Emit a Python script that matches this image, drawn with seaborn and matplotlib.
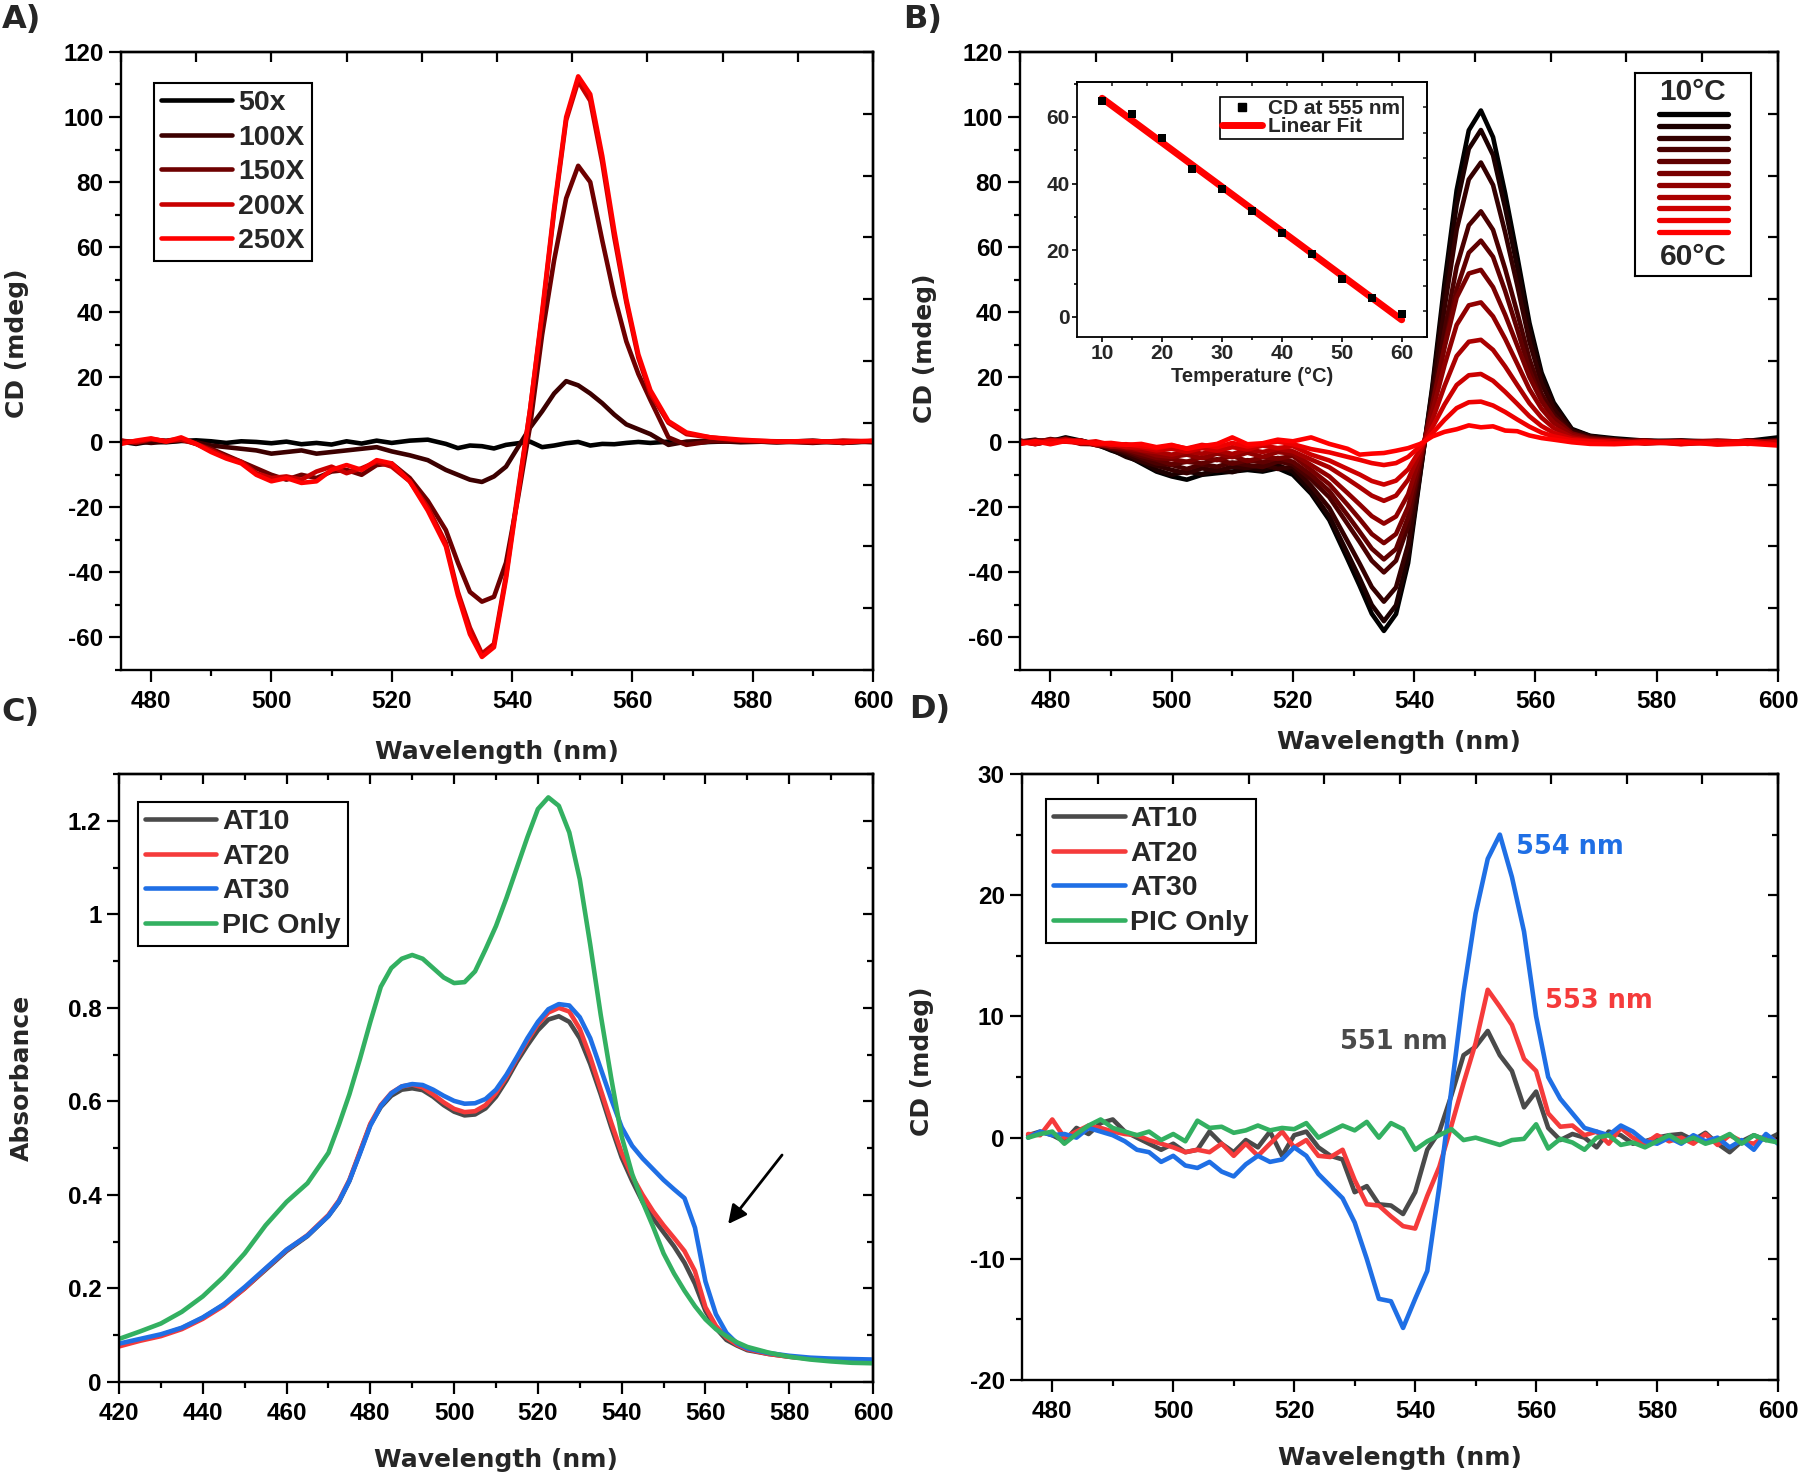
import numpy as np
import pandas as pd
import seaborn as sns
import matplotlib
matplotlib.use("Agg")
import matplotlib.pyplot as plt
from matplotlib.lines import Line2D
from matplotlib.ticker import MultipleLocator, FuncFormatter

sns.set_theme(style="ticks")
plt.rcParams['font.family'] = ['Liberation Sans', 'DejaVu Sans']
plt.rcParams['font.weight'] = 'bold'
plt.rcParams['axes.unicode_minus'] = False

# ---------------- data ----------------
# panels A and B share the same wavelength grid (nm)
wl_cd = [475, 477.5, 480, 482.5, 485, 487.5, 490, 492.5, 495, 497.5, 500, 502.5, 505, 507.5,
         510, 512.5, 515, 517.5, 520, 523, 526, 529, 531, 533, 535, 537, 539, 541, 543, 545,
         547, 549, 551, 553, 555, 557, 559, 561, 563, 566, 569, 573, 578, 584, 590, 595, 600]

# A) dilution series
a_labels = ['50x', '100X', '150X', '200X', '250X']
a50 = [0.2, -0.5, 0.3, 0.0, 0.4, 0.6, 0.3, -0.2, 0.3, 0.1, -0.3, 0.2, -0.6, -0.2, -0.7, 0.3, -0.4, 0.5, -0.2,
       0.5, 0.8, -0.5, -1.8, -1.0, -1.2, -1.9, -0.8, -0.3, 0.2, -1.5, -1.0, -0.3, 0.1, -1.0, -0.5, -0.6, -0.2, 0.1, -0.2,
       0.2, -0.3, 0.1, 0.4, 0.0, 0.5, -0.2, 0.3]
a100 = [0.0, 0.3, -0.2, 0.2, 0.5, 0.0, -1.0, -1.5, -2.0, -2.5, -3.5, -3.0, -2.5, -3.5, -3.0, -2.5, -2.0, -1.5, -2.8,
        -4.0, -5.5, -8.5, -10.0, -11.5, -12.2, -10.5, -7.5, -1.5, 4.5, 9.5, 15.0, 18.8, 17.5, 15.0, 12.0, 8.5, 5.5, 4.0, 2.5,
        -0.8, 0.2, 0.5, 0.0, 0.3, -0.2, 0.4, 0.0]
a150 = [0.5, -0.3, 0.8, 0.5, 1.0, -0.5, -2.0, -4.0, -6.0, -8.0, -10.0, -11.5, -10.0, -11.0, -9.0, -8.5, -10.0, -7.0, -6.5,
        -11.0, -18.0, -27.0, -37.0, -46.0, -49.0, -47.5, -37.0, -17.0, 5.0, 33.0, 56.0, 75.0, 85.0, 80.0, 62.0, 45.0, 31.0, 21.0, 13.0,
        1.5, -0.8, 0.3, 0.5, 0.0, 0.3, -0.2, 0.4]
a200 = [0.5, 0.0, 1.0, 0.3, 0.8, -0.5, -2.5, -4.5, -6.0, -9.5, -11.0, -10.5, -11.5, -9.0, -7.5, -9.5, -8.0, -6.0, -7.5,
        -12.0, -20.0, -31.0, -46.0, -57.0, -65.0, -62.0, -41.0, -15.0, 10.0, 39.0, 71.0, 99.0, 111.0, 105.0, 86.0, 63.0, 43.0, 26.0, 15.0,
        6.0, 2.5, 1.5, 0.5, 0.3, 0.0, 0.5, 0.3]
a250 = [-0.5, 0.5, 1.2, 0.2, 1.5, -0.5, -3.0, -5.0, -6.5, -10.0, -12.0, -11.0, -12.5, -12.0, -8.5, -7.0, -8.5, -5.5, -6.5,
        -12.0, -21.0, -32.0, -47.0, -59.0, -66.0, -63.0, -42.0, -16.0, 10.0, 40.0, 72.0, 100.0, 112.5, 107.0, 88.0, 65.0, 44.0, 27.0, 16.0,
        6.5, 3.0, 1.5, 0.8, 0.2, 0.4, 0.0, 0.5]

# B) temperature series 10..60 C
b_temps = [10, 15, 20, 25, 30, 35, 40, 45, 50, 55, 60]
b10 = [0.5, -0.5, 0.3, 1.5, 0.5, -0.5, -2.5, -4.0, -6.5, -9.0, -10.5, -11.5, -10.0, -9.5, -9.0, -8.5, -9.0, -8.0, -10.0,
       -15.8, -23.9, -35.9, -44.1, -52.7, -58.0, -52.8, -37.1, -9.9,
       17.3, 49.0, 77.5, 95.9, 102.0, 93.8, 76.5, 57.1, 36.7, 21.4, 12.2, 4.1, 2.0,
       1.2, 0.5, 0.3, -0.2, 0.4, 1.5]
b15 = [0.2, 0.8, -0.4, 1.0, 0.2, -0.8, -2.2, -4.5, -6.0, -8.5, -10.0, -9.0, -9.8, -8.5, -9.2, -7.8, -8.6, -7.0, -9.0,
       -15.0, -22.7, -34.1, -41.8, -50.0, -55.0, -50.1, -35.2, -9.4,
       16.3, 46.1, 73.0, 90.2, 96.0, 88.3, 72.0, 53.8, 34.6, 20.2, 11.5, 3.8, 1.9,
       0.8, 0.2, 0.6, 0.1, -0.3, 0.8]
b20 = [-0.3, 0.5, 0.6, 0.8, -0.2, -0.5, -2.0, -3.5, -5.8, -7.2, -8.5, -9.5, -8.0, -8.8, -7.5, -7.9, -6.8, -8.2, -7.5,
       -13.4, -20.2, -30.4, -37.3, -44.5, -49.0, -44.6, -31.4, -8.3,
       14.6, 41.3, 65.4, 80.8, 86.0, 79.1, 64.5, 48.2, 31.0, 18.1, 10.3, 3.4, 1.7,
       0.5, 0.6, -0.2, 0.4, 0.2, 0.3]
b25 = [0.4, -0.2, 1.0, 0.3, 0.6, -0.8, -1.5, -3.0, -4.8, -6.5, -7.0, -8.2, -6.8, -7.5, -6.2, -7.0, -7.6, -5.9, -6.8,
       -11.4, -16.9, -25.1, -30.6, -36.4, -40.0, -36.4, -25.6, -6.8,
       12.1, 34.1, 54.0, 66.7, 71.0, 65.3, 53.3, 39.8, 25.6, 14.9, 8.5, 2.8, 1.4,
       0.9, -0.1, 0.3, -0.4, 0.6, 0.0]
b30 = [0.0, 0.6, -0.3, 1.2, 0.0, -0.3, -1.8, -2.5, -4.2, -5.3, -6.8, -6.0, -6.5, -5.2, -6.6, -5.5, -6.2, -4.8, -6.0,
       -10.0, -15.0, -22.4, -27.5, -32.7, -36.0, -32.8, -23.0, -6.1,
       10.5, 29.8, 47.1, 58.3, 62.0, 57.0, 46.5, 34.7, 22.3, 13.0, 7.4, 2.5, 1.2,
       0.3, 0.4, -0.5, 0.2, -0.2, 0.6]
b35 = [0.5, -0.4, 0.2, 0.7, -0.5, -0.6, -1.2, -2.2, -3.5, -4.8, -5.2, -6.0, -4.6, -5.5, -4.2, -5.8, -4.6, -5.0, -4.2,
       -8.5, -12.9, -19.2, -23.6, -28.2, -31.0, -28.2, -19.8, -5.3,
       11.7, 29.2, 44.5, 51.9, 53.0, 47.7, 39.2, 29.7, 20.1, 12.7, 7.4, 2.7, 1.1,
       0.6, -0.3, 0.2, 0.5, 0.1, -0.5]
b40 = [-0.2, 0.3, 0.8, 0.2, 0.4, -0.9, -1.0, -1.9, -2.6, -4.0, -4.5, -3.8, -4.9, -3.5, -4.6, -3.2, -4.5, -3.0, -3.5,
       -7.0, -10.5, -15.6, -19.1, -22.7, -25.0, -22.8, -16.0, -4.3,
       9.5, 23.7, 36.1, 42.1, 43.0, 38.7, 31.8, 24.1, 16.3, 10.3, 6.0, 2.2, 0.9,
       0.2, 0.5, -0.3, -0.1, 0.4, 0.2]
b45 = [0.3, -0.6, 0.4, 0.9, -0.3, -0.2, -1.3, -1.2, -2.4, -3.0, -3.8, -2.8, -3.5, -2.5, -3.6, -2.2, -3.0, -2.0, -2.8,
       -5.3, -7.7, -11.3, -13.8, -16.4, -18.0, -16.4, -11.5, -3.1,
       6.9, 17.3, 26.5, 30.9, 31.5, 28.4, 23.3, 17.6, 12.0, 7.6, 4.4, 1.6, 0.6,
       -0.2, 0.1, 0.4, -0.6, 0.0, -0.3]
b50 = [-0.4, 0.2, -0.1, 0.6, 0.5, -0.7, -0.5, -1.5, -1.6, -2.5, -2.0, -2.9, -1.8, -2.6, -1.5, -2.2, -1.0, -1.8, -1.2,
       -3.8, -5.6, -8.2, -9.9, -11.9, -13.0, -11.8, -8.3, -2.2,
       4.6, 11.6, 17.6, 20.6, 21.0, 18.9, 15.5, 11.8, 8.0, 5.0, 2.9, 1.1, 0.4,
       0.4, -0.4, 0.0, 0.3, -0.5, 0.1]
b55 = [0.1, -0.5, 0.5, 0.2, -0.2, 0.3, -0.8, -0.6, -1.2, -1.8, -1.0, -1.9, -0.8, -1.5, -0.2, -1.3, -0.5, 0.2, -0.6,
       -2.1, -3.1, -4.5, -5.4, -6.4, -7.0, -6.4, -4.5, -1.2,
       2.8, 6.9, 10.5, 12.3, 12.5, 11.3, 9.3, 7.0, 4.8, 3.0, 1.8, 0.6, 0.3,
       -0.3, 0.2, -0.6, 0.1, 0.3, -0.8]
b60 = [-0.5, 0.3, -0.6, 0.4, 0.2, -0.4, -0.2, -0.8, -0.5, -1.5, -0.8, -2.0, -1.2, -0.5, 1.5, -0.6, -0.3, 0.8, 0.3,
       1.5, -0.5, -2.0, -3.8, -3.5, -3.3, -2.6, -1.8, -0.5,
       1.8, 3.2, 4.0, 5.2, 4.6, 4.9, 3.6, 3.4, 2.1, 1.3, 0.8, 0.0, -0.5,
       -0.6, -0.2, 0.1, -0.7, -0.4, -1.0]
b_curves = [b10, b15, b20, b25, b30, b35, b40, b45, b50, b55, b60]

# B inset: CD at 555 nm vs temperature
inset_temp = [10, 15, 20, 25, 30, 35, 40, 45, 50, 55, 60]
inset_cd = [64.8, 60.8, 53.8, 44.4, 38.3, 31.8, 25.3, 18.8, 11.4, 5.7, 1.0]

# C) absorbance
abs_wl = [420, 425, 430, 435, 440, 445, 450, 455, 460, 465,
          470, 472.5, 475, 477.5, 480, 482.5, 485, 487.5, 490, 492.5,
          495, 497.5, 500, 502.5, 505, 507.5, 510, 512.5, 515, 517.5,
          520, 522.5, 525, 527.5, 530, 532.5, 535, 537.5, 540, 542.5,
          545, 547.5, 550, 552.5, 555, 557.5, 560, 562.5, 565, 567.5,
          570, 575, 580, 585, 590, 595, 600]
sample_labels = ['AT10', 'AT20', 'AT30', 'PIC Only']
abs_at10 = [0.080, 0.090, 0.100, 0.115, 0.137, 0.165, 0.200, 0.240, 0.280, 0.312,
            0.355, 0.385, 0.430, 0.490, 0.550, 0.588, 0.612, 0.625, 0.628, 0.624,
            0.610, 0.592, 0.578, 0.570, 0.572, 0.585, 0.610, 0.645, 0.685, 0.720,
            0.752, 0.775, 0.782, 0.770, 0.735, 0.680, 0.615, 0.545, 0.480, 0.430,
            0.385, 0.350, 0.320, 0.290, 0.255, 0.210, 0.152, 0.115, 0.090, 0.078,
            0.068, 0.060, 0.054, 0.050, 0.047, 0.046, 0.045]
abs_at20 = [0.076, 0.088, 0.098, 0.113, 0.135, 0.163, 0.200, 0.242, 0.282, 0.314,
            0.357, 0.388, 0.432, 0.492, 0.552, 0.592, 0.618, 0.632, 0.636, 0.630,
            0.615, 0.598, 0.584, 0.577, 0.579, 0.592, 0.618, 0.652, 0.692, 0.730,
            0.765, 0.790, 0.800, 0.792, 0.755, 0.695, 0.625, 0.555, 0.490, 0.440,
            0.400, 0.365, 0.335, 0.308, 0.280, 0.237, 0.160, 0.120, 0.095, 0.080,
            0.070, 0.060, 0.054, 0.050, 0.047, 0.045, 0.044]
abs_at30 = [0.082, 0.092, 0.102, 0.116, 0.138, 0.166, 0.203, 0.243, 0.283, 0.313,
            0.355, 0.386, 0.430, 0.488, 0.548, 0.590, 0.617, 0.632, 0.637, 0.635,
            0.625, 0.612, 0.601, 0.595, 0.596, 0.605, 0.625, 0.657, 0.695, 0.735,
            0.770, 0.797, 0.808, 0.805, 0.780, 0.735, 0.670, 0.605, 0.545, 0.505,
            0.478, 0.455, 0.432, 0.412, 0.393, 0.330, 0.215, 0.145, 0.105, 0.083,
            0.072, 0.062, 0.056, 0.052, 0.050, 0.049, 0.048]
abs_pic = [0.092, 0.108, 0.125, 0.150, 0.183, 0.225, 0.275, 0.335, 0.385, 0.425,
           0.490, 0.550, 0.615, 0.690, 0.770, 0.845, 0.885, 0.905, 0.913, 0.905,
           0.885, 0.865, 0.853, 0.855, 0.878, 0.925, 0.975, 1.035, 1.100, 1.165,
           1.225, 1.250, 1.232, 1.175, 1.075, 0.935, 0.785, 0.650, 0.525, 0.445,
           0.385, 0.332, 0.275, 0.232, 0.195, 0.162, 0.134, 0.113, 0.098, 0.085,
           0.075, 0.063, 0.054, 0.048, 0.044, 0.041, 0.040]

# D) CD of the samples, 476..600 nm every 2 nm
d_wl = list(range(476, 601, 2))
d_at10 = [0.2, 0.5, 0.2, -0.3, 0.8, 0.3, 1.2, 1.5, 0.5, 0.0,
          -0.5, -1.0, -0.5, -1.2, -1.0, 0.5, -0.5, -1.2, -0.2, -0.8,
          0.5, -1.5, 0.2, 0.5, -0.8, -1.5, -1.8, -4.5, -4.0, -5.5,
          -5.6, -6.3, -4.5, -1.0, 0.5, 3.5, 6.8, 7.5, 8.8, 6.8,
          5.5, 2.5, 3.8, 0.8, -0.2, 0.3, 0.0, -0.8, 0.5, 0.2,
          -0.5, -0.3, 0.0, 0.2, 0.3, -0.2, 0.4, -0.5, -1.2, -0.3,
          0.2, -0.2, 0.3]
d_at20 = [0.3, 0.2, 1.5, 0.0, 0.5, 1.0, 0.8, 0.5, 0.3, 0.2,
          -0.2, -0.5, -0.8, -1.2, -1.0, -1.2, -0.5, -1.5, -0.5, -1.5,
          -0.5, 0.5, -0.8, -0.2, -1.5, -1.6, -1.0, -3.5, -5.5, -5.6,
          -6.5, -7.3, -7.5, -4.8, -2.4, 1.0, 4.5, 7.8, 12.2, 10.8,
          9.3, 6.5, 5.5, 2.0, 0.9, 1.0, 0.2, 0.5, -0.5, 0.8,
          0.0, -0.5, 0.2, -0.3, 0.0, -0.5, 0.3, -0.6, 0.2, -0.3,
          -0.5, 0.2, -0.4]
d_at30 = [0.0, 0.5, 0.2, 0.3, 0.0, 0.8, 0.5, 0.2, -0.3, -1.0,
          -1.2, -2.0, -1.5, -2.3, -2.5, -2.0, -2.8, -3.2, -2.2, -1.5,
          -2.0, -1.8, -0.8, -1.5, -3.0, -4.0, -5.0, -7.0, -10.0, -13.3,
          -13.5, -15.7, -13.3, -11.0, -4.0, 4.0, 12.0, 18.5, 23.0, 25.0,
          21.5, 17.0, 10.0, 5.0, 3.2, 2.0, 0.8, 0.5, 0.2, 1.0,
          0.5, -0.3, -0.5, 0.0, -0.5, 0.2, -0.3, 0.0, -0.8, -0.2,
          -1.0, 0.3, -0.5]
d_pic = [0.0, 0.3, 0.5, -0.5, 0.3, 1.0, 1.5, 0.8, 0.5, 0.2,
         0.5, -0.2, 0.3, -0.3, 1.4, 0.8, 0.9, 0.4, 0.6, 1.0,
         0.6, 0.8, 0.7, 1.2, 0.0, 0.5, 1.0, 0.6, 1.3, 0.0,
         1.2, 0.7, -1.0, -0.3, 0.2, 0.7, -0.2, 0.0, -0.3, -0.6,
         -0.2, -0.1, 1.1, -0.9, -0.1, -0.4, -1.0, 0.0, 0.2, -0.6,
         -0.4, -0.8, -0.3, 0.2, -0.4, 0.0, -0.5, -0.2, 0.3, -0.5,
         0.2, -0.2, -0.4]
peak_labels = ['551 nm', '553 nm', '554 nm']
peak_pos = [(527.6, 7.9), (561.4, 11.3), (556.6, 24.0)]

# ---------------- styling ----------------
a_colors = ['#000000', '#3c0000', '#6e0000', '#c80000', '#ff0000']
b_colors = ['#000000', '#1c0000', '#340000', '#4a0000', '#600000', '#780000',
            '#900000', '#aa0000', '#cc0000', '#ee0000', '#ff0000']
s_colors = ['#4a4a4a', '#f53b3b', '#1f6fe5', '#33b061']
LW = 3.3
LABEL_FONT = dict(fontsize=18, fontweight='bold', family='DejaVu Sans')
LEG_FONT = dict(family='Liberation Sans', weight='bold', size=20.5)


def long_form(x, curves, names):
    return pd.DataFrame({'x': list(x) * len(curves),
                         'y': sum([list(c) for c in curves], []),
                         'name': sum([[n] * len(x) for n in names], [])})


def frame_axes(ax, xlim, ylim, xmaj, xmin, ymaj, ymin, top_ticks=None, right_ticks=None):
    ax.set_xlim(*xlim)
    ax.set_ylim(*ylim)
    ax.xaxis.set_major_locator(MultipleLocator(xmaj))
    ax.xaxis.set_minor_locator(MultipleLocator(xmin))
    ax.yaxis.set_major_locator(MultipleLocator(ymaj))
    ax.yaxis.set_minor_locator(MultipleLocator(ymin))
    ax.tick_params(which='both', direction='out', width=1.6, color='black',
                   top=False, right=False, labelcolor='black')
    ax.tick_params(which='major', length=8.5, labelsize=17.5)
    ax.tick_params(which='minor', length=4.5)
    ax.tick_params(axis='x', pad=6)
    ax.tick_params(axis='y', pad=4)
    for sp in ax.spines.values():
        sp.set_visible(True)
        sp.set_linewidth(1.7)
        sp.set_color('black')
    top = ax.secondary_xaxis('top')
    right = ax.secondary_yaxis('right')
    if top_ticks is None:
        top.xaxis.set_major_locator(MultipleLocator(xmaj))
        top.xaxis.set_minor_locator(MultipleLocator(xmin))
    else:
        top.set_xticks(top_ticks)
    if right_ticks is None:
        right.yaxis.set_major_locator(MultipleLocator(ymaj))
        right.yaxis.set_minor_locator(MultipleLocator(ymin))
    else:
        right.set_yticks(right_ticks)
    top.tick_params(which='both', direction='in', width=1.6, color='black', labeltop=False)
    top.tick_params(which='major', length=7)
    top.tick_params(which='minor', length=4)
    right.tick_params(which='both', direction='in', width=1.6, color='black', labelright=False)
    right.tick_params(which='major', length=7)
    right.tick_params(which='minor', length=4)
    for sec in (top, right):
        for sp in sec.spines.values():
            sp.set_linewidth(1.7)
            sp.set_color('black')


def add_legend(ax, labels, colors, anchor, loc='upper left'):
    handles = [Line2D([], [], color=c, lw=LW) for c in colors]
    leg = ax.legend(handles, labels, loc=loc, bbox_to_anchor=anchor, frameon=True,
                    fancybox=False, edgecolor='black', framealpha=1, handlelength=2.5,
                    handletextpad=0.2, labelspacing=0.3, borderpad=0.25, borderaxespad=0,
                    prop=LEG_FONT)
    leg.get_frame().set_linewidth(1.5)
    return leg


fig = plt.figure(figsize=(18, 14.76), dpi=100)
fig.patch.set_facecolor('white')

axA = fig.add_axes([0.0672, 0.5461, 0.4178, 0.4187])
axB = fig.add_axes([0.5667, 0.5461, 0.4211, 0.4187])
axC = fig.add_axes([0.0661, 0.0637, 0.4189, 0.4119])
axD = fig.add_axes([0.5678, 0.0650, 0.4200, 0.4106])

# ---- A ----
df_a = long_form(wl_cd, [a50, a100, a150, a200, a250], a_labels)
sns.lineplot(data=df_a, x='x', y='y', hue='name', hue_order=a_labels, palette=a_colors,
             estimator=None, sort=False, linewidth=LW, legend=False, ax=axA)
frame_axes(axA, (475, 600), (-70, 120), 20, 10, 20, 10,
           top_ticks=np.linspace(475, 600, 11), right_ticks=np.linspace(-70, 120, 11))
axA.set_xlabel('Wavelength (nm)', **LABEL_FONT)
axA.set_ylabel('CD (mdeg)', **LABEL_FONT)
axA.xaxis.set_label_coords(0.5, -0.114)
axA.yaxis.set_label_coords(-0.122, 0.529)
add_legend(axA, a_labels, a_colors, (0.044, 0.95))

# ---- B ----
df_b = long_form(wl_cd, b_curves, [f'{t}' for t in b_temps])
sns.lineplot(data=df_b, x='x', y='y', hue='name', hue_order=[f'{t}' for t in b_temps],
             palette=b_colors, estimator=None, sort=False, linewidth=LW, legend=False, ax=axB)
frame_axes(axB, (475, 600), (-70, 120), 20, 10, 20, 10,
           top_ticks=np.linspace(475, 600, 11), right_ticks=np.linspace(-70, 120, 11))
axB.set_xlabel('Wavelength (nm)', **LABEL_FONT)
axB.set_ylabel('CD (mdeg)', **LABEL_FONT)
axB.xaxis.set_label_coords(0.5, -0.097)
axB.yaxis.set_label_coords(-0.109, 0.52)

# B inset
axI = fig.add_axes([0.5983, 0.7717, 0.1944, 0.1728])
axI.set_facecolor('white')
sns.regplot(x=np.array(inset_temp), y=np.array(inset_cd), ax=axI, ci=None, scatter=False,
            color='red', line_kws=dict(lw=5, solid_capstyle='round'))
sns.scatterplot(x=inset_temp, y=inset_cd, ax=axI, marker='s', color='black', s=30,
                edgecolor='black', linewidth=0, zorder=3)
axI.set_xlim(5.8, 64.2)
axI.set_ylim(-6, 70.5)
axI.xaxis.set_major_locator(MultipleLocator(10))
axI.xaxis.set_minor_locator(MultipleLocator(5))
axI.yaxis.set_major_locator(MultipleLocator(20))
axI.yaxis.set_minor_locator(MultipleLocator(10))
axI.tick_params(which='both', direction='out', width=1.2, color='black', labelsize=15,
                pad=1.5, top=False, right=False)
axI.tick_params(which='major', length=3.5)
axI.tick_params(which='minor', length=2.5)
for sp in axI.spines.values():
    sp.set_visible(True)
    sp.set_linewidth(1.3)
    sp.set_color('black')
itop = axI.secondary_xaxis('top')
itop.set_xticks(np.linspace(5.8, 64.2, 11))
itop.tick_params(direction='in', length=3, width=1.2, labeltop=False)
iright = axI.secondary_yaxis('right')
iright.set_yticks(np.linspace(-6, 70.5, 11))
iright.tick_params(direction='in', length=3, width=1.2, labelright=False)
axI.set_xlabel('Temperature (°C)', fontsize=14.5, fontweight='bold')
axI.set_ylabel('')
axI.xaxis.set_label_coords(0.5, -0.118)
ileg = axI.legend([Line2D([], [], marker='s', ls='none', color='black', markersize=6),
                   Line2D([], [], color='red', lw=5)],
                  ['CD at 555 nm', 'Linear Fit'], loc='upper right', bbox_to_anchor=(0.931, 0.941),
                  frameon=True, fancybox=False, edgecolor='black', framealpha=1, handlelength=1.9,
                  handletextpad=0.3, labelspacing=-0.05, borderpad=0.12, borderaxespad=0,
                  prop=dict(family='Liberation Sans', weight='bold', size=15))
ileg.get_frame().set_linewidth(1.2)

# B colour key
axK = fig.add_axes([0.9083, 0.8130, 0.0644, 0.1375])
axK.set_xlim(0, 1)
axK.set_ylim(0, 1)
axK.set_xticks([])
axK.set_yticks([])
for sp in axK.spines.values():
    sp.set_linewidth(1.5)
    sp.set_color('black')
for yk, c in zip(np.linspace(0.798, 0.217, len(b_colors)), b_colors):
    axK.plot([0.207, 0.80], [yk, yk], color=c, lw=3.8, solid_capstyle='round')
axK.text(0.5, 0.905, f'{b_temps[0]}°C', ha='center', va='center', fontsize=21.5, fontweight='bold')
axK.text(0.5, 0.094, f'{b_temps[-1]}°C', ha='center', va='center', fontsize=21.5, fontweight='bold')

# ---- C ----
df_c = long_form(abs_wl, [abs_at10, abs_at20, abs_at30, abs_pic], sample_labels)
sns.lineplot(data=df_c, x='x', y='y', hue='name', hue_order=sample_labels, palette=s_colors,
             estimator=None, sort=False, linewidth=LW, legend=False, ax=axC)
frame_axes(axC, (420, 600), (0, 1.3), 20, 10, 0.2, 0.1)
axC.yaxis.set_major_formatter(FuncFormatter(lambda v, p: f'{v:g}'))
axC.set_xlabel('Wavelength (nm)', **LABEL_FONT)
axC.set_ylabel('Absorbance', **LABEL_FONT)
axC.xaxis.set_label_coords(0.5, -0.108)
axC.yaxis.set_label_coords(-0.113, 0.5)
add_legend(axC, sample_labels, s_colors, (0.025, 0.954))
axC.annotate('', xy=(565.0, 0.333), xytext=(578.7, 0.49),
             arrowprops=dict(arrowstyle='-|>', color='black', lw=2, mutation_scale=28))

# ---- D ----
df_d = long_form(d_wl, [d_at10, d_at20, d_at30, d_pic], sample_labels)
sns.lineplot(data=df_d, x='x', y='y', hue='name', hue_order=sample_labels, palette=s_colors,
             estimator=None, sort=False, linewidth=LW, legend=False, ax=axD)
frame_axes(axD, (475, 600), (-20, 30), 20, 10, 10, 5,
           top_ticks=np.linspace(475, 600, 11))
axD.set_xlabel('Wavelength (nm)', **LABEL_FONT)
axD.set_ylabel('CD (mdeg)', **LABEL_FONT)
axD.xaxis.set_label_coords(0.5, -0.108)
axD.yaxis.set_label_coords(-0.116, 0.526)
add_legend(axD, sample_labels, s_colors, (0.032, 0.959))
for txt, (px, py), c in zip(peak_labels, peak_pos, s_colors[:3]):
    axD.text(px, py, txt, color=c, ha='left', va='center', fontsize=18.5,
             fontweight='bold', family='DejaVu Sans')

# panel letters
for lab, x, y in [('A)', 0.001, 0.997), ('B)', 0.502, 0.997), ('C)', 0.001, 0.528), ('D)', 0.505, 0.530)]:
    fig.text(x, y, lab, ha='left', va='top', fontsize=23, fontweight='bold', family='DejaVu Sans')

fig.savefig('out.png', dpi=100, facecolor='white')
